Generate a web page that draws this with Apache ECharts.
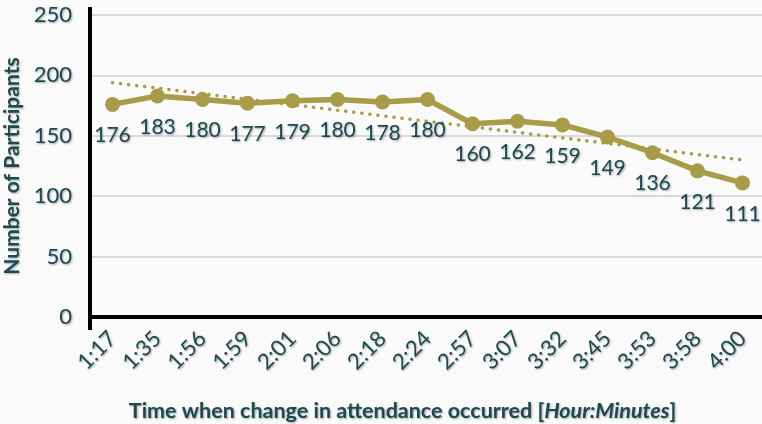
<!DOCTYPE html>
<html><head><meta charset="utf-8">
<script src="https://cdn.jsdelivr.net/npm/echarts@6/dist/echarts.min.js"></script>
<style>html,body{margin:0;padding:0;background:#fafafa}#c{width:762px;height:424px}</style>
</head><body><div id="c"></div>
<script>
const categories = ['1:17','1:35','1:56','1:59','2:01','2:06','2:18','2:24','2:57','3:07','3:32','3:45','3:53','3:58','4:00'];
const participants = [176,183,180,177,179,180,178,180,160,162,159,149,136,121,111];
// trend line: start and end values
const trendEnds = [194, 130];
const yTicks = {min:0, max:250, interval:50};

const textColor = '#1d4a52';
const lineColor = '#a89c48';
const font = 'Lato';
const shadow = {textShadowColor:'rgba(0,0,0,0.35)', textShadowBlur:2, textShadowOffsetX:1, textShadowOffsetY:1};

const trendData = categories.map((c,i)=> i===0 ? trendEnds[0] : (i===categories.length-1 ? trendEnds[1] : null));

const chart = echarts.init(document.getElementById('c'), null, {renderer:'canvas'});
chart.setOption({
  backgroundColor:'#fafafa',
  animation:false,
  textStyle:{fontFamily:font},
  grid:{left:90, top:15, width:675, bottom:107, containLabel:false, outerBoundsMode:'none'},
  xAxis:{
    type:'category', data:categories, boundaryGap:true, offset:10,
    axisLine:{show:true, lineStyle:{color:'#000', width:4}},
    axisTick:{show:false},
    axisLabel:{rotate:45, fontSize:22, color:textColor, margin:8, fontFamily:font, ...shadow},
    name:'{n|Time when change in attendance occurred [}{i|Hour:Minutes}{n|]}',
    nameLocation:'middle', nameGap:73,
    nameTextStyle:{padding:[0,50,0,0], rich:{
      n:{fontSize:21.5, fontWeight:'bold', color:textColor, fontFamily:font, ...shadow},
      i:{fontSize:21.5, fontWeight:'bold', fontStyle:'italic', color:textColor, fontFamily:font, ...shadow}
    }}
  },
  yAxis:{
    type:'value', min:yTicks.min, max:yTicks.max, interval:yTicks.interval,
    axisLine:{show:false}, axisTick:{show:false},
    splitLine:{lineStyle:{color:'#d9d9d9', width:2}},
    axisLabel:{fontSize:22, color:textColor, margin:18, fontFamily:font, ...shadow},
    name:'Number of Participants', nameLocation:'middle', nameGap:64,
    nameTextStyle:{fontSize:21, fontWeight:'bold', color:textColor, fontFamily:font, ...shadow}
  },
  graphic:[{type:'rect', shape:{x:88, y:7, width:4, height:323}, style:{fill:'#000'}, z:10}],
  series:[
    {
      type:'line', data:trendData, connectNulls:true, symbol:'none', z:1,
      lineStyle:{color:lineColor, width:3.5, type:[0.1,8], cap:'round'}
    },
    {
      type:'line', data:participants, symbol:'circle', symbolSize:15, z:2,
      lineStyle:{color:lineColor, width:5.5}, itemStyle:{color:lineColor},
      label:{show:true, position:'bottom', distance:13, fontSize:21, color:textColor, fontFamily:font, ...shadow}
    }
  ]
});
</script></body></html>
